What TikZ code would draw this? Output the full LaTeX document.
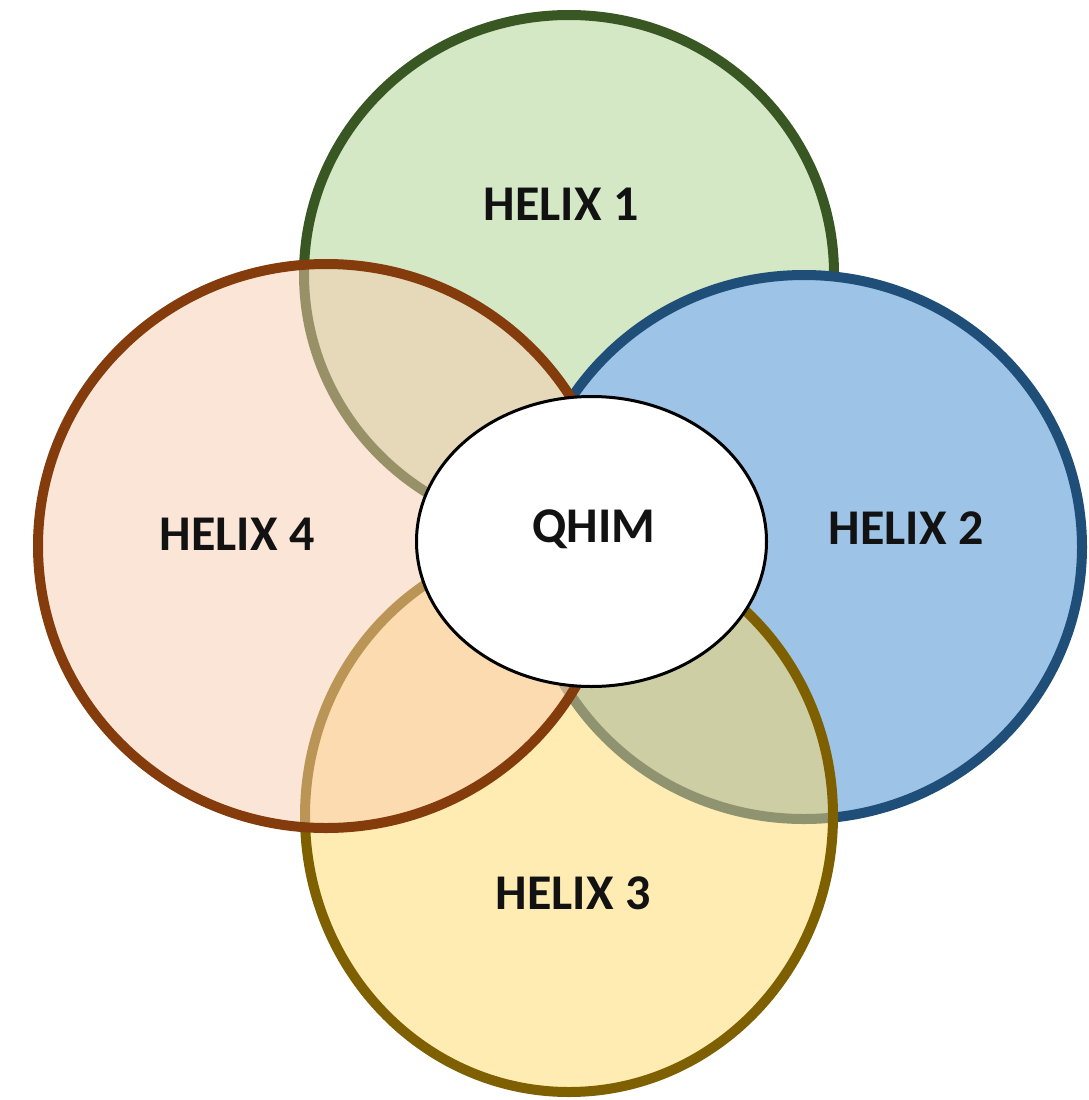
\documentclass[tikz,border=0pt]{standalone}
\usepackage{fontspec}
\setmainfont{Carlito}

\definecolor{hOnefill}{HTML}{A9D18E}
\definecolor{hOneline}{HTML}{385723}
\definecolor{hTwofill}{HTML}{9DC3E6}
\definecolor{hTwoline}{HTML}{1F4E79}
\definecolor{hThreefill}{HTML}{FFD966}
\definecolor{hThreeline}{HTML}{7F6000}
\definecolor{hFourfill}{HTML}{F8CBAD}
\definecolor{hFourline}{HTML}{843C0C}

\begin{document}
\begin{tikzpicture}[x=1pt, y=-1pt,
    ring/.style={line width=10pt},
    lbl/.style={font=\fontsize{50}{60}\selectfont\bfseries, text=black!93, inner sep=0pt}]
    \useasboundingbox (0,0) rectangle (1089,1100);

    % Helix 1 (top)
    \draw[ring, draw=hOneline, fill=hOnefill, fill opacity=0.5] (569,274) ellipse [x radius=265pt, y radius=259pt];

    % Helix 2 (right)
    \draw[ring, draw=hTwoline, fill=hTwofill] (804,547) ellipse [x radius=278pt, y radius=272pt];

    % Helix 3 (bottom)
    \draw[ring, draw=hThreeline, fill=hThreefill, fill opacity=0.5] (569,816) ellipse [x radius=264pt, y radius=276pt];

    % Helix 4 (left)
    \draw[ring, draw=hFourline, fill=hFourfill, fill opacity=0.5] (326,546) ellipse [x radius=288pt, y radius=282pt];

    % Centre
    \draw[line width=3pt, fill=white] (591.5,541.5) ellipse [x radius=175pt, y radius=145pt];

    % Labels
    \node[lbl] (helix1) at (561,204) {HELIX 1};
    \node[lbl] (helix2) at (906,528) {HELIX 2};
    \node[lbl] (helix3) at (573,893) {HELIX 3};
    \node[lbl] (helix4) at (237,534) {HELIX 4};
    \node[lbl] (qhim) at (594,529) {QHIM};
\end{tikzpicture}
\end{document}
